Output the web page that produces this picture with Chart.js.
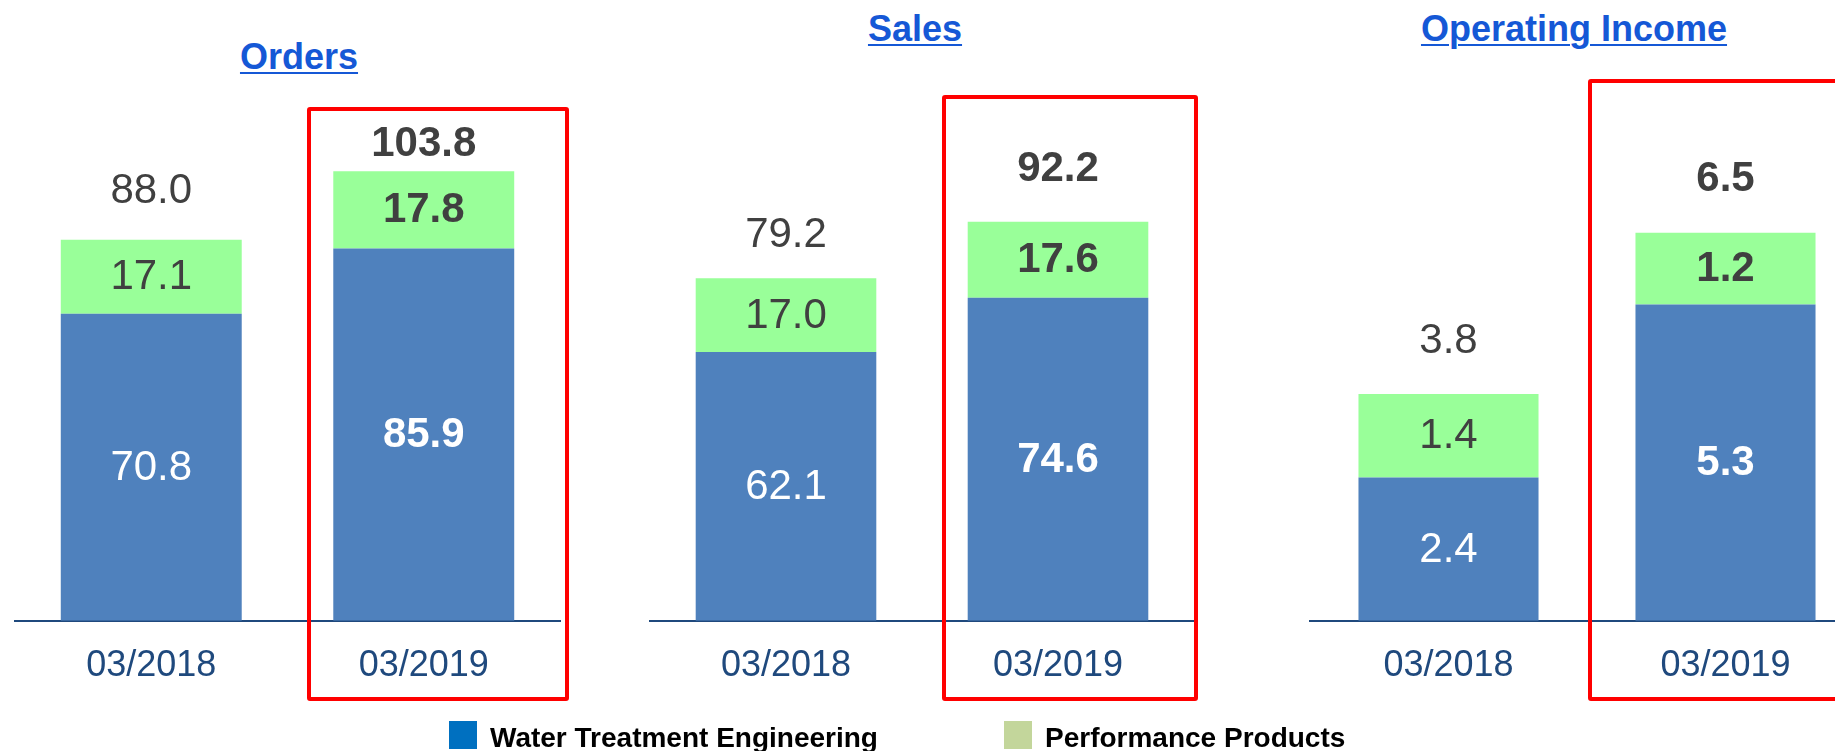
<!DOCTYPE html>
<html>
<head>
<meta charset="utf-8">
<script src="https://cdn.jsdelivr.net/npm/chart.js@4.4.0/dist/chart.umd.min.js"></script>
<style>
	body {
		margin: 0;
		width: 1835px;
		height: 751px;
		overflow: hidden;
		background: #fff;
		position: relative;
		font-family: "Liberation Sans", Arial, sans-serif;
	}
	canvas {
		position: absolute;
		top: 0;
	}
	.title {
		position: absolute;
		font-weight: bold;
		font-size: 36px;
		line-height: 40px;
		color: #1558d6;
		text-decoration: underline;
		text-decoration-thickness: 2px;
		text-underline-offset: 3px;
		white-space: nowrap;
		transform: translateX(-50%);
	}
	.box {
		position: absolute;
		border: 4px solid #ff0000;
		box-sizing: border-box;
		border-radius: 3px;
	}
	.legend__key {
		position: absolute;
		top: 721px;
		width: 28px;
		height: 28px;
	}
	.legend__text {
		position: absolute;
		top: 722px;
		font: bold 28px "Liberation Sans", Arial, sans-serif;
		line-height: 32px;
		color: #000;
		white-space: nowrap;
	}
</style>
</head>
<body>
<div class="title" style="left:299px; top:37px;">Orders</div>
<div class="title" style="left:915px; top:9px;">Sales</div>
<div class="title" style="left:1574px; top:9px;">Operating Income</div>

<canvas id="orders" width="600" height="751" style="left:0px;"></canvas>
<canvas id="sales" width="600" height="751" style="left:620px;"></canvas>
<canvas id="income" width="640" height="751" style="left:1240px;"></canvas>

<div class="box" style="left:307px; top:107px; width:262px; height:594px;"></div>
<div class="box" style="left:942px; top:95px; width:256px; height:606px;"></div>
<div class="box" style="left:1588px; top:79px; width:270px; height:622px;"></div>

<div class="legend__key" style="left:449px; background:#0070c0;"></div>
<div class="legend__text" style="left:490px;" id="legend0"></div>
<div class="legend__key" style="left:1004px; background:#c3d69b;"></div>
<div class="legend__text" style="left:1045px;" id="legend1"></div>

<script>
const categories = ["03/2018", "03/2019"];
const seriesNames = ["Water Treatment Engineering", "Performance Products"];

const ordersWater = [70.8, 85.9];
const ordersPerformance = [17.1, 17.8];
const ordersTotal = [88.0, 103.8];

const salesWater = [62.1, 74.6];
const salesPerformance = [17.0, 17.6];
const salesTotal = [79.2, 92.2];

const incomeWater = [2.4, 5.3];
const incomePerformance = [1.4, 1.2];
const incomeTotal = [3.8, 6.5];

const waterColor = "#4f81bd";
const performanceColor = "#99ff99";
const labelFont = "'Liberation Sans', Arial, sans-serif";

document.querySelector("#legend0").textContent = seriesNames[0];
document.querySelector("#legend1").textContent = seriesNames[1];

// draws the value inside each segment and the total above each stack
const valueLabels = {
	id: "valueLabels",
	afterDatasetsDraw(chart, args, opts) {
		const ctx = chart.ctx;
		ctx.save();
		ctx.textAlign = "center";
		ctx.textBaseline = "middle";

		chart.data.datasets.forEach((dataset, i) => {
			const meta = chart.getDatasetMeta(i);
			meta.data.forEach((bar, j) => {
				const weight = j === 1 ? "bold" : "normal";
				ctx.font = weight + " 42px " + labelFont;
				ctx.fillStyle = i === 0 ? "#ffffff" : "#404040";
				ctx.fillText(dataset.data[j].toFixed(1), bar.x, (bar.y + bar.base) / 2 + 1);
			});
		});

		const topMeta = chart.getDatasetMeta(chart.data.datasets.length - 1);
		opts.totals.forEach((total, j) => {
			const bar = topMeta.data[j];
			const weight = j === 1 ? "bold" : "normal";
			ctx.font = weight + " 42px " + labelFont;
			ctx.fillStyle = "#404040";
			ctx.fillText(total.toFixed(1), bar.x, bar.y - opts.gaps[j]);
		});
		ctx.restore();
	},
};

function configChart(water, performance, totals, gaps, yMax, padding, barPercentage) {
	return {
		type: "bar",
		data: {
			labels: categories,
			datasets: [
				{
					label: seriesNames[0],
					data: water,
					backgroundColor: waterColor,
					barPercentage: barPercentage,
					categoryPercentage: 1,
				},
				{
					label: seriesNames[1],
					data: performance,
					backgroundColor: performanceColor,
					barPercentage: barPercentage,
					categoryPercentage: 1,
				},
			],
		},
		options: {
			responsive: false,
			animation: false,
			devicePixelRatio: 1,
			layout: { padding: padding },
			plugins: {
				legend: { display: false },
				tooltip: { enabled: false },
				valueLabels: { totals: totals, gaps: gaps },
			},
			scales: {
				x: {
					stacked: true,
					grid: { display: false, drawTicks: false },
					border: { display: true, color: "#1f497d", width: 2 },
					ticks: {
						color: "#1f497d",
						padding: 24,
						font: { family: labelFont, size: 36 },
					},
				},
				y: {
					stacked: true,
					display: false,
					min: 0,
					max: yMax,
				},
			},
		},
		plugins: [valueLabels],
	};
}

function render() {
	new Chart(
		document.querySelector("#orders"),
		configChart(ordersWater, ordersPerformance, ordersTotal, [48, 27], 143.2,
			{ left: 15, right: 40, top: 0, bottom: 39 }, 0.664)
	);
	new Chart(
		document.querySelector("#sales"),
		configChart(salesWater, salesPerformance, salesTotal, [43, 52], 143.4,
			{ left: 30, right: 26, top: 0, bottom: 39 }, 0.664)
	);
	new Chart(
		document.querySelector("#income"),
		configChart(incomeWater, incomePerformance, incomeTotal, [53, 53], 10.4,
			{ left: 70, right: 16, top: 0, bottom: 39 }, 0.65)
	);
}

render();
</script>
</body>
</html>
